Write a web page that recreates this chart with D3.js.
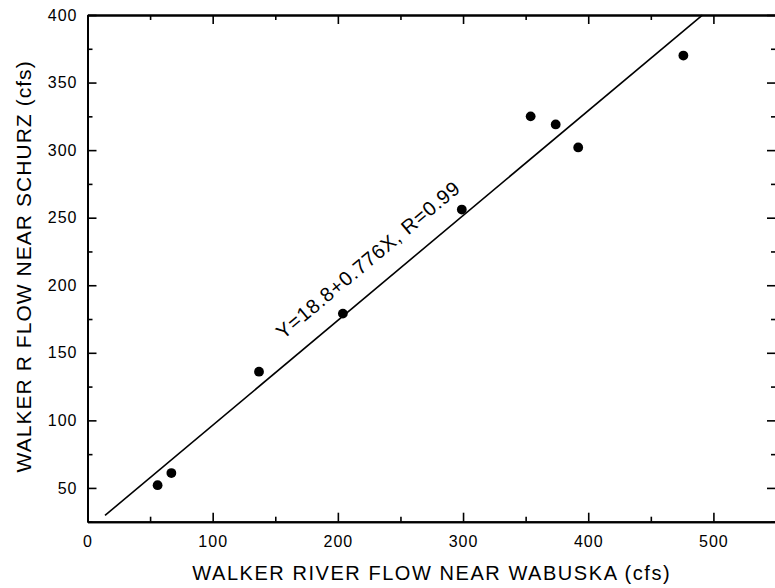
<!DOCTYPE html>
<html>
<head>
<meta charset="utf-8">
<script src="https://cdn.jsdelivr.net/npm/d3@7"></script>
<style>
  html, body { margin: 0; padding: 0; background: #fff; }
  svg { display: block; }
  text { font-family: "Liberation Sans", Arial, Helvetica, sans-serif; fill: #000; }
</style>
</head>
<body>
<svg id="chart" width="775" height="588"></svg>
<script>
// Paired flow observations (cfs)
const wabuskaFlow = [56, 67, 137, 204, 299, 354, 374, 392, 476];
const schurzFlow  = [52, 61, 136, 179, 256, 325, 319, 302, 370];

// Fitted line Y = a + bX and its label
const fitIntercept = 18.8;
const fitSlope = 0.776;
const fitRange = [14, 491.2];
const fitLabel = "Y=18.8+0.776X, R=0.99";

// Axes
const xDomain = [0, 550];
const yDomain = [25, 400];
const xMajorTicks = [0, 100, 200, 300, 400, 500];
const xMinorTicks = [50, 150, 250, 350, 450, 550];
const yMajorTicks = [50, 100, 150, 200, 250, 300, 350, 400];
const yMinorTicks = [25, 75, 125, 175, 225, 275, 325, 375];
const xTitle = "WALKER RIVER FLOW NEAR WABUSKA (cfs)";
const yTitle = "WALKER R FLOW NEAR SCHURZ (cfs)";

const svg = d3.select("#chart");
const plotLeft = 87.5, plotRight = 776, plotTop = 15, plotBottom = 521.7;

const x = d3.scaleLinear().domain(xDomain).range([plotLeft, plotRight]);
const y = d3.scaleLinear().domain(yDomain).range([plotBottom, plotTop]);

const MAJOR = 9, MINOR = 5;

function styleAxis(g) {
  g.selectAll("path.domain").attr("stroke", "#000").attr("stroke-width", 2);
  g.selectAll(".tick line").attr("stroke", "#000").attr("stroke-width", 1.6);
  g.selectAll(".tick text").style("font-size", "16px").attr("fill", "#000")
    .style("letter-spacing", "1px");
}

// Bottom
svg.append("g").attr("transform", `translate(0,${plotBottom})`)
  .call(d3.axisBottom(x).tickValues(xMajorTicks).tickFormat(d3.format("d"))
    .tickSizeInner(-MAJOR).tickSizeOuter(0).tickPadding(14))
  .call(styleAxis);
svg.append("g").attr("transform", `translate(0,${plotBottom})`)
  .call(d3.axisBottom(x).tickValues(xMinorTicks).tickFormat("")
    .tickSizeInner(-MINOR).tickSizeOuter(0))
  .call(styleAxis);

// Top
svg.append("g").attr("transform", `translate(0,${plotTop})`)
  .call(d3.axisTop(x).tickValues(xMajorTicks).tickFormat("")
    .tickSizeInner(-MAJOR).tickSizeOuter(0))
  .call(styleAxis);
svg.append("g").attr("transform", `translate(0,${plotTop})`)
  .call(d3.axisTop(x).tickValues(xMinorTicks).tickFormat("")
    .tickSizeInner(-MINOR).tickSizeOuter(0))
  .call(styleAxis);

// Left
svg.append("g").attr("transform", `translate(${plotLeft},0)`)
  .call(d3.axisLeft(y).tickValues(yMajorTicks).tickFormat(d3.format("d"))
    .tickSizeInner(-MAJOR).tickSizeOuter(0).tickPadding(10))
  .call(styleAxis);
svg.append("g").attr("transform", `translate(${plotLeft},0)`)
  .call(d3.axisLeft(y).tickValues(yMinorTicks).tickFormat("")
    .tickSizeInner(-MINOR).tickSizeOuter(0))
  .call(styleAxis);

// Right
svg.append("g").attr("transform", `translate(${plotRight},0)`)
  .call(d3.axisRight(y).tickValues(yMajorTicks).tickFormat("")
    .tickSizeInner(-MAJOR).tickSizeOuter(0))
  .call(styleAxis);
svg.append("g").attr("transform", `translate(${plotRight},0)`)
  .call(d3.axisRight(y).tickValues(yMinorTicks).tickFormat("")
    .tickSizeInner(-MINOR).tickSizeOuter(0))
  .call(styleAxis);

// Regression line
const fit = d => fitIntercept + fitSlope * d;
svg.append("path")
  .datum(fitRange)
  .attr("fill", "none")
  .attr("stroke", "#000")
  .attr("stroke-width", 1.6)
  .attr("d", d3.line().x(d => x(d)).y(d => y(fit(d))));

// Observations
svg.append("g").selectAll("circle")
  .data(wabuskaFlow.map((v, i) => [v, schurzFlow[i]]))
  .join("circle")
  .attr("cx", d => x(d[0]))
  .attr("cy", d => y(d[1]))
  .attr("r", 4.9)
  .attr("fill", "#000");

// Equation label laid along the fitted line
const labelAt = 163;
const angle = Math.atan2(y(fit(labelAt)) - y(fit(labelAt + 100)), x(labelAt + 100) - x(labelAt)) * 180 / Math.PI;
svg.append("text")
  .attr("transform", `translate(${x(labelAt)},${y(fit(labelAt))}) rotate(${-angle})`)
  .attr("x", 6)
  .attr("y", -20)
  .style("font-size", "20px")
  .style("letter-spacing", "0.85px")
  .text(fitLabel);

// Axis titles
svg.append("text")
  .attr("x", (plotLeft + plotRight) / 2)
  .attr("y", 579.5)
  .attr("text-anchor", "middle")
  .style("font-size", "20px")
  .style("letter-spacing", "1.55px")
  .text(xTitle);

svg.append("text")
  .attr("transform", `translate(31,${(plotTop + plotBottom) / 2 - 2}) rotate(-90)`)
  .attr("text-anchor", "middle")
  .style("font-size", "21px")
  .style("letter-spacing", "1.05px")
  .text(yTitle);
</script>
</body>
</html>
